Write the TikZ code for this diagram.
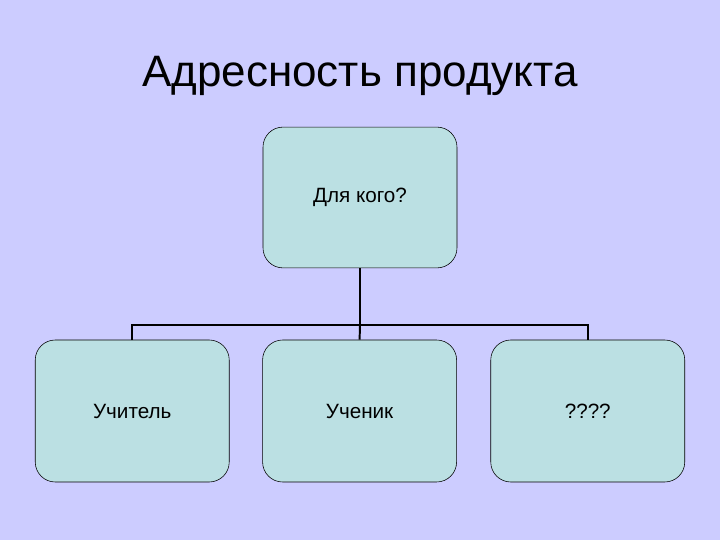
\documentclass[tikz,border=0pt]{standalone}
\usepackage{fontspec}
\setmainfont{Liberation Sans}
\usepackage{xcolor}
\usetikzlibrary{positioning,calc}

\definecolor{slidebg}{HTML}{CCCCFF}
\definecolor{boxfill}{HTML}{BBE0E3}

\begin{document}
\begin{tikzpicture}[font=\fontsize{14.7}{17}\selectfont,
  every node/.style={align=center},
  orgbox/.style={draw, thin, rounded corners=0.5cm, fill=boxfill, minimum width=4.85cm, minimum height=3.55cm, inner sep=2pt},
  link/.style={line width=1.4pt}]

% ---------------- background ----------------
\fill[slidebg] (0,0) rectangle (18,13.5);
\useasboundingbox (0,0) rectangle (18,13.5);

% ---------------- title ----------------
\node[font=\fontsize{31.3}{36}\selectfont] (title) at (9,11.6) {Адресность продукта};

% ---------------- boxes ----------------
\node[orgbox, minimum height=3.52cm] (root) at (9,8.5625) {Для кого?};
\node[orgbox] (pupil) at (8.99,3.225) {Ученик};
\node[orgbox, left=0.82cm of pupil] (teacher) {Учитель};
\node[orgbox, right=0.84cm of pupil] (unknown) {????};

% ---------------- connectors ----------------
\coordinate (bus) at (9,5.375);
\draw[link] (root.south) -- (bus);
\draw[link] (teacher.north) |- (bus) -| (unknown.north);
\draw[link] (bus) -- (pupil.north);
\end{tikzpicture}
\end{document}
